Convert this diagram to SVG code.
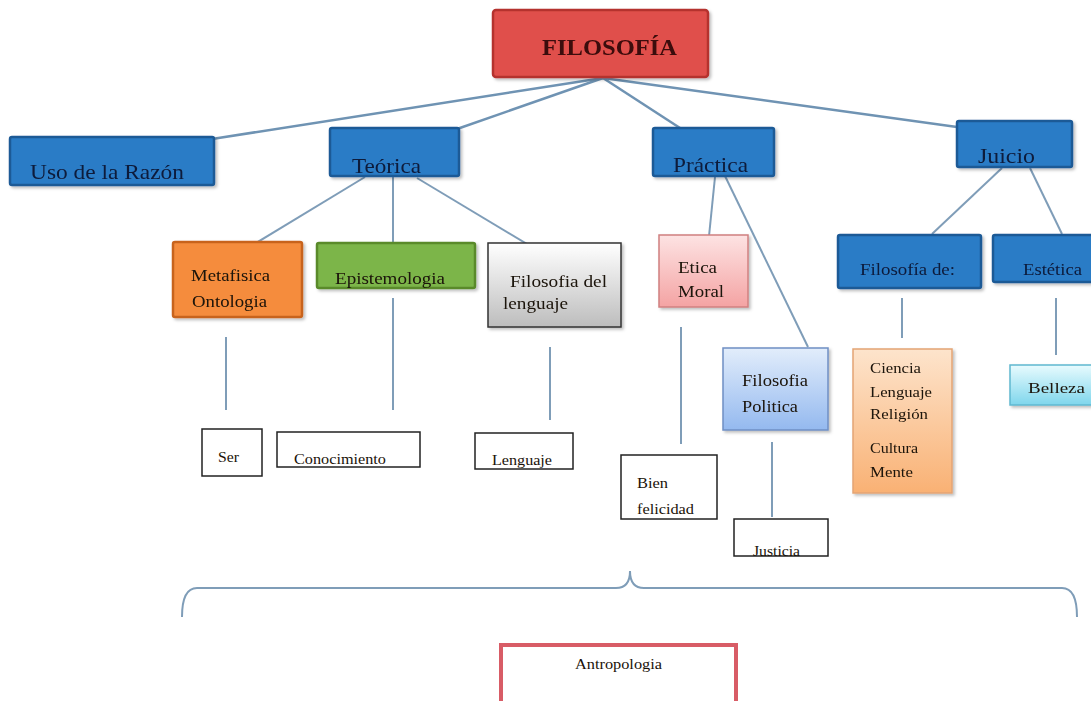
<svg xmlns="http://www.w3.org/2000/svg" width="1091" height="701" viewBox="0 0 1091 701">
<defs>
<style>
text{font-family:"Liberation Serif","DejaVu Serif",serif;fill:#1a1208}
.blue{fill:#2b7cc6;stroke:#1c5a96;stroke-width:2.5}
.bt{fill:#0d1a3a;font-size:21px}
.st{font-size:15px}
.mt{font-size:16px}
.box{fill:#fff;stroke:#222;stroke-width:1.5}
.ln{stroke:#7f9db8;stroke-width:2;fill:none}
.lt{stroke:#6f93b3;stroke-width:2.5;fill:none}
</style>
<linearGradient id="gGray" x1="0" y1="0" x2="0" y2="1"><stop offset="0" stop-color="#ffffff"/><stop offset="1" stop-color="#bdbdbd"/></linearGradient>
<linearGradient id="gPink" x1="0" y1="0" x2="0" y2="1"><stop offset="0" stop-color="#fde3e3"/><stop offset="1" stop-color="#f4a3a3"/></linearGradient>
<linearGradient id="gLBlue" x1="0" y1="0" x2="0" y2="1"><stop offset="0" stop-color="#e2edfb"/><stop offset="1" stop-color="#94b9ef"/></linearGradient>
<linearGradient id="gPeach" x1="0" y1="0" x2="0" y2="1"><stop offset="0" stop-color="#fde4cc"/><stop offset="1" stop-color="#f9b174"/></linearGradient>
<linearGradient id="gCyan" x1="0" y1="0" x2="0" y2="1"><stop offset="0" stop-color="#e8fbfe"/><stop offset="1" stop-color="#7fd6ec"/></linearGradient>
<filter id="sh" x="-10%" y="-10%" width="130%" height="140%"><feDropShadow dx="2" dy="2" stdDeviation="1.5" flood-color="#000" flood-opacity="0.25"/></filter>
</defs>
<rect width="1091" height="701" fill="#fff"/>

<g id="connectors">
<line class="lt" x1="603" y1="78" x2="212" y2="139"/>
<line class="lt" x1="603" y1="78" x2="457" y2="129"/>
<line class="lt" x1="603" y1="78" x2="680" y2="128"/>
<line class="lt" x1="603" y1="78" x2="957" y2="127"/>
<line class="ln" x1="365" y1="177" x2="233" y2="257"/>
<line class="ln" x1="393" y1="177" x2="393" y2="262"/>
<line class="ln" x1="417" y1="178" x2="557" y2="262"/>
<line class="ln" x1="715" y1="177" x2="708" y2="246"/>
<line class="ln" x1="725" y1="176" x2="808" y2="347"/>
<line class="ln" x1="1002" y1="168" x2="932" y2="234"/>
<line class="ln" x1="1030" y1="168" x2="1062" y2="234"/>
<line class="ln" x1="226" y1="337" x2="226" y2="410"/>
<line class="ln" x1="393" y1="298" x2="393" y2="410"/>
<line class="ln" x1="550" y1="347" x2="550" y2="420"/>
<line class="ln" x1="681" y1="327" x2="681" y2="444"/>
<line class="ln" x1="772" y1="442" x2="772" y2="517"/>
<line class="ln" x1="902" y1="298" x2="902" y2="338"/>
<line class="ln" x1="1056" y1="298" x2="1056" y2="355"/>
<path class="ln" d="M182,617 Q182,588 197,588 L616,588 Q630,588 630,571 Q630,588 644,588 L1062,588 Q1077,588 1077,617"/>
</g>

<g id="filosofia" filter="url(#sh)">
<rect x="493" y="10" width="215" height="67" rx="3" fill="#e0504b" stroke="#b5322f" stroke-width="2.5"/>
<text x="542" y="55" font-size="23" font-weight="bold" textLength="135" lengthAdjust="spacingAndGlyphs" style="fill:#3a0808">FILOSOFÍA</text>
</g>

<g id="uso" filter="url(#sh)">
<rect class="blue" x="10" y="137" width="204" height="48" rx="2"/>
<text class="bt" x="30" y="179" textLength="154" lengthAdjust="spacingAndGlyphs">Uso de la Razón</text>
</g>
<g id="teorica" filter="url(#sh)">
<rect class="blue" x="330" y="128" width="129" height="48" rx="2"/>
<text class="bt" x="352" y="173" textLength="69" lengthAdjust="spacingAndGlyphs">Teórica</text>
</g>
<g id="practica" filter="url(#sh)">
<rect class="blue" x="653" y="128" width="121" height="48" rx="2"/>
<text class="bt" x="673" y="172" textLength="75" lengthAdjust="spacingAndGlyphs">Práctica</text>
</g>
<g id="juicio" filter="url(#sh)">
<rect class="blue" x="957" y="121" width="115" height="46" rx="2"/>
<text class="bt" x="978" y="163" textLength="57" lengthAdjust="spacingAndGlyphs">Juicio</text>
</g>

<g id="metafisica" filter="url(#sh)">
<rect x="173" y="242" width="129" height="75" rx="2" fill="#f58c3c" stroke="#c8641e" stroke-width="2.5"/>
<text class="mt" x="191" y="281" textLength="79" lengthAdjust="spacingAndGlyphs">Metafisica</text>
<text class="mt" x="192" y="307" textLength="75" lengthAdjust="spacingAndGlyphs">Ontologia</text>
</g>
<g id="epistemologia" filter="url(#sh)">
<rect x="317" y="243" width="158" height="45" rx="2" fill="#7cb54a" stroke="#5a8a2c" stroke-width="2.5"/>
<text class="mt" x="335" y="284" textLength="110" lengthAdjust="spacingAndGlyphs">Epistemologia</text>
</g>
<g id="lenguajefil" filter="url(#sh)">
<rect x="488" y="243" width="133" height="84" fill="url(#gGray)" stroke="#333" stroke-width="1.5"/>
<text class="mt" x="510" y="287" textLength="97" lengthAdjust="spacingAndGlyphs">Filosofia del</text>
<text class="mt" x="503" y="309" textLength="65" lengthAdjust="spacingAndGlyphs">lenguaje</text>
</g>

<g id="etica" filter="url(#sh)">
<rect x="659" y="235" width="89" height="72" fill="url(#gPink)" stroke="#d08080" stroke-width="1.5"/>
<text class="mt" x="678" y="273" textLength="39" lengthAdjust="spacingAndGlyphs">Etica</text>
<text class="mt" x="678" y="297" textLength="46" lengthAdjust="spacingAndGlyphs">Moral</text>
</g>
<g id="politica" filter="url(#sh)">
<rect x="723" y="348" width="105" height="82" fill="url(#gLBlue)" stroke="#6f8fc4" stroke-width="1.5"/>
<text class="mt" x="742" y="386" textLength="66" lengthAdjust="spacingAndGlyphs">Filosofia</text>
<text class="mt" x="742" y="412" textLength="56" lengthAdjust="spacingAndGlyphs">Politica</text>
</g>

<g id="filosofiade" filter="url(#sh)">
<rect class="blue" x="838" y="235" width="143" height="53" rx="2"/>
<text class="mt" x="860" y="275" textLength="95" lengthAdjust="spacingAndGlyphs" style="fill:#0d1a3a">Filosofía de:</text>
</g>
<g id="estetica" filter="url(#sh)">
<rect class="blue" x="993" y="235" width="104" height="47" rx="2"/>
<text class="mt" x="1023" y="275" textLength="59" lengthAdjust="spacingAndGlyphs" style="fill:#0d1a3a">Estética</text>
</g>

<g id="ciencia" filter="url(#sh)">
<rect x="853" y="349" width="99" height="144" fill="url(#gPeach)" stroke="#e3a474" stroke-width="1.5"/>
<text class="st" x="870" y="373" textLength="51" lengthAdjust="spacingAndGlyphs">Ciencia</text>
<text class="st" x="870" y="397" textLength="62" lengthAdjust="spacingAndGlyphs">Lenguaje</text>
<text class="st" x="870" y="419" textLength="58" lengthAdjust="spacingAndGlyphs">Religión</text>
<text class="st" x="870" y="453" textLength="48" lengthAdjust="spacingAndGlyphs">Cultura</text>
<text class="st" x="870" y="477" textLength="43" lengthAdjust="spacingAndGlyphs">Mente</text>
</g>
<g id="belleza" filter="url(#sh)">
<rect x="1010" y="365" width="90" height="40" fill="url(#gCyan)" stroke="#5fb8d0" stroke-width="1.5"/>
<text class="st" x="1028" y="393" textLength="57" lengthAdjust="spacingAndGlyphs">Belleza</text>
</g>

<g id="ser">
<rect class="box" x="202" y="429" width="60" height="47"/>
<text class="st" x="218" y="462" textLength="21" lengthAdjust="spacingAndGlyphs">Ser</text>
</g>
<g id="conocimiento">
<rect class="box" x="277" y="432" width="143" height="35"/>
<text class="st" x="294" y="464" textLength="92" lengthAdjust="spacingAndGlyphs">Conocimiento</text>
</g>
<g id="lenguaje">
<rect class="box" x="475" y="433" width="98" height="36"/>
<text class="st" x="492" y="465" textLength="60" lengthAdjust="spacingAndGlyphs">Lenguaje</text>
</g>
<g id="bien">
<rect class="box" x="621" y="455" width="96" height="64"/>
<text class="st" x="637" y="488" textLength="31" lengthAdjust="spacingAndGlyphs">Bien</text>
<text class="st" x="637" y="514" textLength="57" lengthAdjust="spacingAndGlyphs">felicidad</text>
</g>
<g id="justicia">
<rect class="box" x="734" y="519" width="94" height="37"/>
<text class="st" x="753" y="556" textLength="47" lengthAdjust="spacingAndGlyphs">Justicia</text>
</g>

<g id="antropologia">
<rect x="501" y="645" width="235" height="62" fill="#fff" stroke="#d85c66" stroke-width="4"/>
<text class="st" x="575" y="669" textLength="87" lengthAdjust="spacingAndGlyphs">Antropologia</text>
</g>
</svg>
